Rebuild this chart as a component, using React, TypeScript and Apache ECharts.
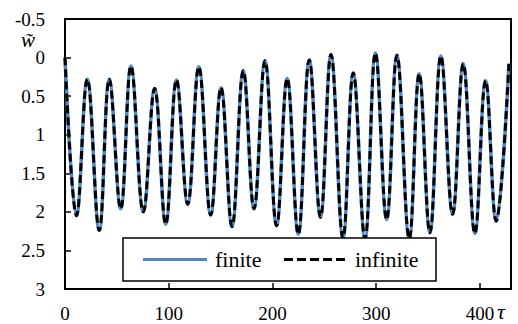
import React, { useEffect, useRef } from "react";
import * as echarts from "echarts";

// Dimensionless time at each turning point of the deflection history
const tau = [
  0, 11.1, 21.5, 33.0, 42.7, 53.7, 63.6, 75.5, 86.4, 97.1, 107.5, 118.3, 129.0,
  140.5, 150.4, 161.0, 171.9, 182.2, 192.8, 204.0, 214.2, 224.9, 235.5, 246.3,
  256.4, 268.0, 277.9, 289.2, 299.3, 310.1, 320.0, 331.9, 341.5, 351.8, 362.4,
  373.7, 383.9, 395.2, 405.5, 415.7, 428.0,
];

// Non-dimensional deflection w~ for the finite model
const finiteW = [
  0.0, 2.05, 0.28, 2.24, 0.28, 1.96, 0.11, 2.0, 0.4, 2.16, 0.29, 1.9, 0.12,
  2.04, 0.39, 2.19, 0.17, 1.96, 0.04, 2.18, 0.27, 2.29, 0.03, 2.07, -0.04,
  2.34, 0.2, 2.35, -0.06, 2.1, -0.03, 2.35, 0.21, 2.27, -0.02, 2.03, 0.08,
  2.28, 0.3, 2.12, 0.08,
];

// The infinite model coincides with the finite one at this scale
const infiniteW = [...finiteW];

const seriesNames = ["finite", "infinite"];

const xTicks = { min: 0, max: 430, interval: 100 };
const yTicks = { min: -0.5, max: 3, interval: 0.5 };

const serif = "'Liberation Serif', 'Times New Roman', serif";
const blue = "#4f86c6";

export default function App() {
  const ref = useRef<HTMLDivElement>(null);

  useEffect(() => {
    if (!ref.current) return;
    const chart = echarts.init(ref.current, undefined, { renderer: "svg" });
    const pairs = (ys: number[]) => tau.map((t, i) => [t, ys[i]]);

    // legend drawn by hand: framed box with a solid and a dashed sample line
    const legendBox = { x: 123, y: 238, w: 313, h: 43 };
    const midY = legendBox.y + legendBox.h / 2;
    const legendGraphic = {
      type: "group",
      children: [
        {
          type: "rect",
          shape: { x: legendBox.x, y: legendBox.y, width: legendBox.w, height: legendBox.h },
          style: { fill: "#fff", stroke: "#000", lineWidth: 1.5 },
          z: 10,
        },
        {
          type: "line",
          shape: { x1: 143, y1: midY, x2: 207, y2: midY },
          style: { stroke: blue, lineWidth: 3 },
          z: 11,
        },
        {
          type: "text",
          x: 215,
          y: midY,
          style: {
            text: seriesNames[0],
            font: `22px ${serif}`,
            fill: "#000",
            textVerticalAlign: "middle",
          },
          z: 11,
        },
        {
          type: "line",
          shape: { x1: 284, y1: midY, x2: 348, y2: midY },
          style: { stroke: "#000", lineWidth: 3, lineDash: [9, 4] },
          z: 11,
        },
        {
          type: "text",
          x: 355,
          y: midY,
          style: {
            text: seriesNames[1],
            font: `22px ${serif}`,
            fill: "#000",
            textVerticalAlign: "middle",
          },
          z: 11,
        },
      ],
    };

    chart.setOption({
      animation: false,
      grid: {
        left: 65,
        top: 19,
        right: 7,
        bottom: 35,
        show: true,
        borderColor: "#000",
        borderWidth: 2,
      },
      xAxis: {
        type: "value",
        min: xTicks.min,
        max: xTicks.max,
        interval: xTicks.interval,
        splitLine: { show: false },
        axisLine: { onZero: false, lineStyle: { color: "#000", width: 2 } },
        axisTick: { inside: true, length: 6, lineStyle: { color: "#000", width: 1.5 } },
        axisLabel: {
          showMaxLabel: false,
          margin: 15,
          fontFamily: serif,
          fontSize: 19,
          color: "#000",
        },
      },
      yAxis: {
        type: "value",
        inverse: true,
        min: yTicks.min,
        max: yTicks.max,
        interval: yTicks.interval,
        splitLine: { show: false },
        axisLine: { show: true, onZero: false, lineStyle: { color: "#000", width: 2 } },
        axisTick: { show: true, inside: true, length: 6, lineStyle: { color: "#000", width: 1.5 } },
        axisLabel: {
          margin: 20,
          fontFamily: serif,
          fontSize: 19,
          color: "#000",
        },
      },
      graphic: [
        legendGraphic,
        {
          type: "text",
          x: 28,
          y: 40,
          style: {
            text: "w\u0303",
            font: `italic 21px ${serif}`,
            fill: "#000",
            textAlign: "center",
            textVerticalAlign: "middle",
          },
        },
        {
          type: "text",
          x: 501,
          y: 311,
          style: {
            text: "τ",
            font: `italic 22px ${serif}`,
            fill: "#000",
            textAlign: "center",
            textVerticalAlign: "middle",
          },
        },
      ],
      series: [
        {
          name: seriesNames[0],
          type: "line",
          data: pairs(finiteW),
          smooth: 0.4,
          symbol: "none",
          lineStyle: { color: blue, width: 3.5 },
          z: 2,
        },
        {
          name: seriesNames[1],
          type: "line",
          data: pairs(infiniteW),
          smooth: 0.4,
          symbol: "none",
          lineStyle: { color: "#000", width: 3, type: [8, 4] },
          z: 3,
        },
      ],
    });

    return () => chart.dispose();
  }, []);

  return (
    <div
      ref={ref}
      style={{ position: "absolute", left: 0, top: 0, width: 518, height: 324 }}
    />
  );
}
